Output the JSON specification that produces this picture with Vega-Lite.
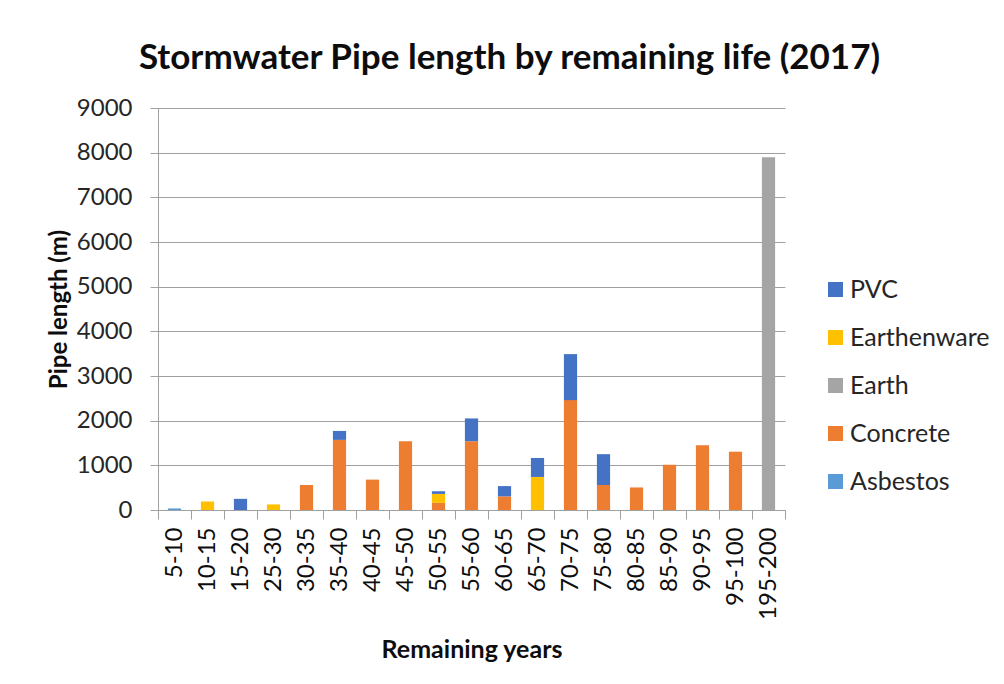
{
  "$schema": "https://vega.github.io/schema/vega-lite/v6.json",
  "autosize": {"type": "none"},
  "padding": {"left": 158, "top": 108, "right": 219, "bottom": 174},
  "width": 627,
  "height": 402,
  "background": "white",
  "title": {
    "text": "Stormwater Pipe length by remaining life (2017)",
    "font": "Lato",
    "fontSize": 35,
    "fontWeight": "bold",
    "color": "#0d0d0d",
    "anchor": "middle",
    "frame": "group",
    "dx": 38,
    "offset": 20
  },
  "data": {
    "values": [
      {"years": "5-10", "material": "Asbestos", "length": 35},
      {"years": "10-15", "material": "Earthenware", "length": 190},
      {"years": "15-20", "material": "PVC", "length": 250},
      {"years": "25-30", "material": "Earthenware", "length": 125},
      {"years": "30-35", "material": "Concrete", "length": 560},
      {"years": "35-40", "material": "Concrete", "length": 1570},
      {"years": "35-40", "material": "PVC", "length": 200},
      {"years": "40-45", "material": "Concrete", "length": 680},
      {"years": "45-50", "material": "Concrete", "length": 1540},
      {"years": "50-55", "material": "Concrete", "length": 160},
      {"years": "50-55", "material": "Earthenware", "length": 200},
      {"years": "50-55", "material": "PVC", "length": 60},
      {"years": "55-60", "material": "Concrete", "length": 1540},
      {"years": "55-60", "material": "PVC", "length": 510},
      {"years": "60-65", "material": "Concrete", "length": 305},
      {"years": "60-65", "material": "PVC", "length": 230},
      {"years": "65-70", "material": "Earthenware", "length": 740},
      {"years": "65-70", "material": "PVC", "length": 425},
      {"years": "70-75", "material": "Concrete", "length": 2460},
      {"years": "70-75", "material": "PVC", "length": 1030},
      {"years": "75-80", "material": "Concrete", "length": 560},
      {"years": "75-80", "material": "PVC", "length": 690},
      {"years": "80-85", "material": "Concrete", "length": 505},
      {"years": "85-90", "material": "Concrete", "length": 1015},
      {"years": "90-95", "material": "Concrete", "length": 1450},
      {"years": "95-100", "material": "Concrete", "length": 1305},
      {"years": "195-200", "material": "Earth", "length": 7900}
    ]
  },
  "mark": {"type": "bar", "width": {"band": 0.4}},
  "encoding": {
    "x": {
      "field": "years",
      "type": "nominal",
      "sort": null,
      "scale": {"paddingInner": 0, "paddingOuter": 0},
      "axis": {
        "title": "Remaining years",
        "titleFont": "Lato",
        "titleFontSize": 25,
        "titleFontWeight": "bold",
        "titleColor": "#0d0d0d",
        "titlePadding": 18,
        "labelFont": "Lato",
        "labelFontSize": 24,
        "labelColor": "#0d0d0d",
        "labelAngle": 270,
        "labelPadding": 8,
        "tickBand": "extent",
        "tickSize": 9,
        "tickColor": "#a0a0a0",
        "domainColor": "#a0a0a0",
        "grid": false
      }
    },
    "y": {
      "field": "length",
      "type": "quantitative",
      "aggregate": "sum",
      "stack": "zero",
      "scale": {"domain": [0, 9000]},
      "axis": {
        "title": "Pipe length (m)",
        "titleFont": "Lato",
        "titleFontSize": 24,
        "titleFontWeight": "bold",
        "titleColor": "#0d0d0d",
        "titlePadding": 5,
        "values": [0, 1000, 2000, 3000, 4000, 5000, 6000, 7000, 8000, 9000],
        "format": "d",
        "labelFont": "Lato",
        "labelFontSize": 24,
        "labelColor": "#262626",
        "labelPadding": 18,
        "tickSize": 8,
        "tickColor": "#a0a0a0",
        "domainColor": "#a0a0a0",
        "gridColor": "#a0a0a0",
        "grid": true
      }
    },
    "color": {
      "field": "material",
      "type": "nominal",
      "sort": "descending",
      "scale": {
        "domain": ["PVC", "Earthenware", "Earth", "Concrete", "Asbestos"],
        "range": ["#4472C4", "#FFC000", "#A5A5A5", "#ED7D31", "#5B9BD5"]
      },
      "legend": {
        "title": null,
        "orient": "none",
        "legendX": 665,
        "legendY": 169,
        "symbolType": "square",
        "symbolSize": 225,
        "symbolStrokeWidth": 0,
        "labelFont": "Lato",
        "labelFontSize": 25,
        "labelColor": "#262626",
        "labelOffset": 2,
        "rowPadding": 22
      }
    },
    "order": {"field": "material", "sort": "ascending"}
  },
  "config": {
    "view": {"stroke": null}
  }
}
